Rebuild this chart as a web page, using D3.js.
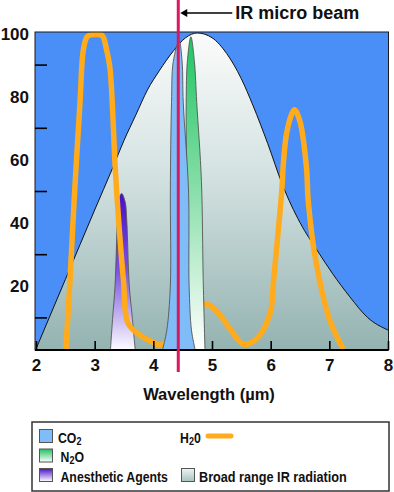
<!DOCTYPE html>
<html>
<head>
<meta charset="utf-8">
<script src="https://cdn.jsdelivr.net/npm/d3@7"></script>
<style>
body { margin: 0; background: #fff; }
</style>
</head>
<body>
<div id="chart"></div>
<script>
// axis ticks
var xTicks = [2, 3, 4, 5, 6, 7, 8]
var yLabels = [20, 40, 60, 80, 100]
var yMinorTicks = [10, 30, 50, 70, 90]

// broad range IR radiation envelope: [wavelength (µm), %]
var broadIR = [
    [2.0, 0], [2.5, 22], [3.0, 44], [3.3, 57], [3.5, 66], [3.7, 74],
    [3.9, 82], [4.1, 88], [4.35, 94.5], [4.55, 98.5], [4.75, 100],
    [5.0, 98.5], [5.25, 93.5], [5.5, 85.5], [5.7, 77], [5.95, 65],
    [6.2, 52], [6.5, 40], [6.8, 31], [7.05, 24], [7.35, 16.5],
    [7.65, 10], [8.0, 6]
]

// H2O absorption line: [wavelength (µm), %]
var h2o = [
    [2.51, 0], [2.58, 22], [2.65, 47], [2.75, 78], [2.81, 95], [2.88, 99],
    [3.0, 99.5], [3.13, 99.2], [3.2, 95], [3.26, 89], [3.35, 57.5],
    [3.4, 43], [3.49, 21.8], [3.57, 8.1], [3.77, 4.4], [4.0, 2.1],
    [4.14, 1.3], [4.5, 7], [4.89, 14.2], [5.09, 11.8], [5.32, 6],
    [5.54, 1.5], [5.77, 3.4], [5.99, 11.3], [6.05, 21.8], [6.13, 37.6],
    [6.19, 50.2], [6.22, 59.6], [6.27, 68], [6.36, 74.4], [6.41, 75.7],
    [6.5, 72], [6.61, 57.5], [6.64, 47], [6.76, 29], [7.01, 9], [7.24, 0]
]

// narrow absorption bands: [%, left wavelength, right wavelength]
var co2Band = [
    [0, 4.16, 4.71], [6, 4.23, 4.65], [20, 4.29, 4.61], [50, 4.29, 4.6],
    [78, 4.31, 4.51], [91, 4.34, 4.49], [97.5, 4.44, 4.44]
]
var n2oBand = [
    [0, 4.58, 4.88], [22, 4.59, 4.85], [53, 4.57, 4.82], [78, 4.56, 4.74],
    [91, 4.58, 4.7], [98.8, 4.64, 4.64]
]
var anestheticBand = [
    [0, 3.27, 3.69], [10, 3.307, 3.641], [20, 3.347, 3.59], [41, 3.386, 3.546],
    [46.5, 3.4, 3.52], [49.2, 3.46, 3.46]
]

// IR micro beam position (µm)
var beamWavelength = 4.425

// legend entries (text parts: [string, is subscript])
var legendLeft = [
    { parts: [["CO", 0], ["2", 1]], fill: "#80bdf8" },
    { parts: [["N", 0], ["2", 1], ["O", 0]], fill: "url(#n2oSwatch)" },
    { parts: [["Anesthetic Agents", 0]], fill: "url(#anesSwatch)" }
]

var w = 394
var h = 492
var svg = d3.select("#chart").append("svg").attr("width", w).attr("height", h)

// plot frame
var fLeft = 35, fRight = 388.5, fTop = 32, fBottom = 350
var xScale = d3.scaleLinear().domain([2, 8]).range([36, 388])
var yScale = d3.scaleLinear().domain([0, 100]).range([349, 33])

var defs = svg.append("defs")
defs.append("clipPath").attr("id", "plotClip")
    .append("rect")
    .attr("x", fLeft).attr("y", fTop)
    .attr("width", fRight - fLeft).attr("height", fBottom - fTop)

function vGrad(id, stops, units) {
    var g = defs.append("linearGradient").attr("id", id)
        .attr("x1", 0).attr("x2", 0).attr("y1", 0).attr("y2", 1)
    if (units) {
        g.attr("gradientUnits", "userSpaceOnUse")
            .attr("y1", units[0]).attr("y2", units[1])
    }
    stops.forEach(function(s) {
        g.append("stop").attr("offset", s[0]).attr("stop-color", s[1])
    })
}
vGrad("broadGrad", [[0, "#fbfcfb"], [0.45, "#d3e2e1"], [1, "#94b3b1"]], [yScale(100), yScale(0)])
vGrad("n2oGrad", [[0, "#1fc663"], [0.45, "#7fdca3"], [1, "#ffffff"]])
vGrad("anesGrad", [[0, "#4a0ccc"], [0.5, "#7a55e0"], [0.8, "#c8b8f0"], [1, "#fbf9ff"]])
vGrad("n2oSwatch", [[0, "#20c060"], [1, "#ffffff"]])
vGrad("anesSwatch", [[0, "#4a10c8"], [1, "#ffffff"]])
vGrad("broadSwatch", [[0, "#eef4f2"], [1, "#a9c2c0"]])

// blue background
svg.append("rect")
    .attr("x", fLeft).attr("y", fTop)
    .attr("width", fRight - fLeft).attr("height", fBottom - fTop)
    .attr("fill", "#4a8ff8")

var plot = svg.append("g").attr("clip-path", "url(#plotClip)")

// broad range envelope
var broadArea = d3.area()
    .x(function(d) { return xScale(d[0]) })
    .y0(yScale(0))
    .y1(function(d) { return yScale(d[1]) })
    .curve(d3.curveMonotoneX)
var broadLine = d3.line()
    .x(function(d) { return xScale(d[0]) })
    .y(function(d) { return yScale(d[1]) })
    .curve(d3.curveMonotoneX)
plot.append("path").datum(broadIR).attr("d", broadArea).attr("fill", "url(#broadGrad)")
plot.append("path").datum(broadIR).attr("d", broadLine)
    .attr("fill", "none").attr("stroke", "#111").attr("stroke-width", 1)

// band outline: up the left edge, down the right edge
function bandOutline(band) {
    var up = band.map(function(d) { return [d[1], d[0]] })
    var down = band.filter(function(d) { return d[1] !== d[2] })
        .map(function(d) { return [d[2], d[0]] }).reverse()
    return up.concat(down)
}
var smoothLine = d3.line()
    .x(function(d) { return xScale(d[0]) })
    .y(function(d) { return yScale(d[1]) })
    .curve(d3.curveCatmullRom.alpha(0.5))

function drawBand(band, fill) {
    plot.append("path")
        .datum(bandOutline(band))
        .attr("d", smoothLine)
        .attr("fill", fill)
        .attr("stroke", "#555")
        .attr("stroke-width", 0.9)
}

drawBand(anestheticBand, "url(#anesGrad)")

// H2O line
plot.append("path")
    .datum(h2o)
    .attr("d", smoothLine)
    .attr("fill", "none")
    .attr("stroke", "#ffab1c")
    .attr("stroke-width", 5.5)
    .attr("stroke-linejoin", "round")

drawBand(n2oBand, "url(#n2oGrad)")
drawBand(co2Band, "#80bdf8")

// frame border
svg.append("rect")
    .attr("x", fLeft).attr("y", fTop)
    .attr("width", fRight - fLeft).attr("height", fBottom - fTop)
    .attr("fill", "none").attr("stroke", "#1a1a1a").attr("stroke-width", 1)

var axisFont = "'Liberation Sans', Arial, sans-serif"

// x axis
var xAxis = d3.axisBottom(xScale)
    .tickValues(xTicks)
    .tickFormat(d3.format("d"))
    .tickSizeInner(-9)
    .tickSizeOuter(0)
    .tickPadding(9)
var xg = svg.append("g")
    .attr("transform", "translate(0," + fBottom + ")")
    .call(xAxis)
xg.select(".domain").remove()
xg.selectAll(".tick line").attr("stroke", "#000").attr("stroke-width", 1.6)
xg.selectAll(".tick text")
    .attr("font-family", axisFont).attr("font-weight", "bold")
    .attr("font-size", 17).attr("fill", "#111")
svg.append("line")
    .attr("x1", fLeft).attr("x2", fRight)
    .attr("y1", fBottom).attr("y2", fBottom)
    .attr("stroke", "#000").attr("stroke-width", 2)

// y axis labels and minor ticks
var yg = svg.append("g")
    .attr("transform", "translate(" + fLeft + ",0)")
    .call(d3.axisLeft(yScale).tickValues(yLabels).tickSize(0).tickPadding(6))
yg.select(".domain").remove()
yg.selectAll(".tick text")
    .attr("font-family", axisFont).attr("font-weight", "bold")
    .attr("font-size", 17).attr("fill", "#111").attr("dy", "0.36em")

var ym = svg.append("g")
    .attr("transform", "translate(" + fLeft + ",0)")
    .call(d3.axisLeft(yScale).tickValues(yMinorTicks).tickSizeInner(-12).tickSizeOuter(0).tickFormat(""))
ym.select(".domain").remove()
ym.selectAll(".tick line").attr("stroke", "#000").attr("stroke-width", 1.6)

// x axis title
svg.append("text")
    .attr("text-anchor", "middle")
    .attr("x", 209).attr("y", 400)
    .text("Wavelength (µm)")
    .attr("font-family", axisFont).attr("font-weight", "bold")
    .attr("font-size", 16.5).attr("fill", "#111")

// IR micro beam
var beamX = xScale(beamWavelength)
svg.append("line")
    .attr("x1", beamX).attr("x2", beamX)
    .attr("y1", 0).attr("y2", 372)
    .attr("stroke", "#d8195e").attr("stroke-width", 3)

svg.append("line")
    .attr("x1", beamX + 7).attr("x2", beamX + 54)
    .attr("y1", 13).attr("y2", 13)
    .attr("stroke", "#000").attr("stroke-width", 1.5)
svg.append("path")
    .attr("d", "M" + (beamX + 2) + ",13 L" + (beamX + 9) + ",9 L" + (beamX + 9) + ",17 Z")
    .attr("fill", "#000")
svg.append("text")
    .attr("x", beamX + 57).attr("y", 18.5)
    .text("IR micro beam")
    .attr("font-family", axisFont).attr("font-weight", "bold")
    .attr("font-size", 18).attr("fill", "#111")

// legend
svg.append("rect")
    .attr("x", 32).attr("y", 422)
    .attr("width", 357).attr("height", 69)
    .attr("fill", "#fff").attr("stroke", "#333").attr("stroke-width", 1.5)

// condensed look: squeeze the text horizontally
function legendText(x, y, parts, squeeze) {
    var t = svg.append("text")
        .attr("transform", "translate(" + x + "," + y + ") scale(" + squeeze + ",1)")
        .attr("font-family", axisFont).attr("font-weight", "bold")
        .attr("font-size", 15).attr("fill", "#111")
    parts.forEach(function(p, i) {
        var s = t.append("tspan").text(p[0])
        if (p[1]) {
            s.attr("font-size", 11).attr("dy", 2)
        } else if (i > 0) {
            s.attr("dy", -2)
        }
    })
}

legendLeft.forEach(function(d, i) {
    var y = 429.5 + i * 19.5
    svg.append("rect")
        .attr("x", 39.5).attr("y", y)
        .attr("width", 13).attr("height", 13)
        .attr("fill", d.fill).attr("stroke", "#555").attr("stroke-width", 1)
    legendText(i === 0 ? 58 : 60.5, y + 13, d.parts, 0.82)
})

// H2O legend entry
legendText(180, 442.5, [["H", 0], ["2", 1], ["0", 0]], 0.82)
svg.append("line")
    .attr("x1", 208).attr("x2", 231)
    .attr("y1", 436).attr("y2", 436)
    .attr("stroke", "#ffab1c").attr("stroke-width", 5).attr("stroke-linecap", "round")

// broad range legend entry
svg.append("rect")
    .attr("x", 181.5).attr("y", 468.5)
    .attr("width", 13).attr("height", 13)
    .attr("fill", "url(#broadSwatch)").attr("stroke", "#555").attr("stroke-width", 1)
legendText(199, 481.5, [["Broad range IR radiation", 0]], 0.845)
</script>
</body>
</html>
